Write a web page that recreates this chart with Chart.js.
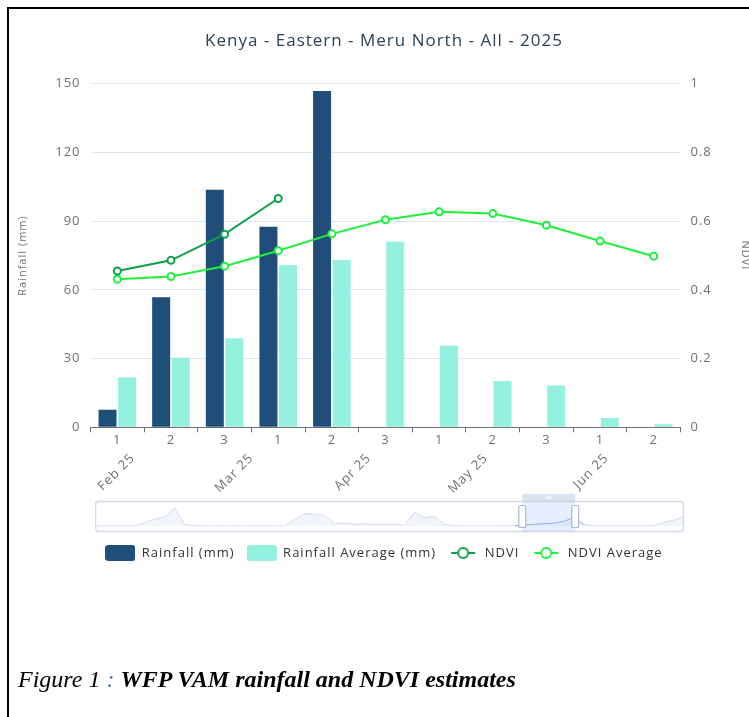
<!DOCTYPE html>
<html><head><meta charset="utf-8">
<script src="https://cdn.jsdelivr.net/npm/chart.js@4/dist/chart.umd.min.js"></script>
<style>
html,body{margin:0;padding:0;background:#fff;width:749px;height:717px;overflow:hidden;position:relative;}
#main{position:absolute;left:0;top:0;}
#mini{position:absolute;left:95px;top:493px;}
#frame{position:absolute;left:7px;top:7px;width:780px;height:740px;border-left:2px solid #000;border-top:2px solid #000;pointer-events:none;}
#cap{position:absolute;left:18px;top:666px;font-family:"Liberation Serif","Times New Roman",serif;font-size:24px;font-style:italic;color:#000;white-space:nowrap;}
#cap .c{color:#3d6fb5;}
</style></head><body>
<canvas id="main" width="760" height="572" style="width:760px;height:572px"></canvas>
<canvas id="mini" width="590" height="40" style="width:590px;height:40px"></canvas>
<div id="frame"></div>
<div id="cap">Figure 1 <span class="c">:</span> <b>WFP VAM rainfall and NDVI estimates</b></div>
<script>
// ---- data ----
const titleText = 'Kenya - Eastern - Meru North - All - 2025';
const dekads = ['1','2','3','1','2','3','1','2','3','1','2'];
const rainfall = [7.7, 56.8, 103.7, 87.6, 146.8, null, null, null, null, null, null];
const rainfallAvg = [21.7, 30.4, 38.9, 70.7, 73.0, 81.0, 35.6, 20.2, 18.2, 4.1, 1.3];
const ndvi = [0.455, 0.486, 0.562, 0.666, null, null, null, null, null, null, null];
const ndviAvg = [0.431, 0.439, 0.469, 0.514, 0.563, 0.604, 0.627, 0.622, 0.588, 0.542, 0.498];
const monthLabels = ['Feb 25', 'Mar 25', 'Apr 25', 'May 25', 'Jun 25'];
const monthPos = [0.29, 2.50, 4.69, 6.87, 9.12];
const rainTicks = [0, 30, 60, 90, 120, 150];
const ndviTicks = [0, 0.2, 0.4, 0.6, 0.8, 1];
// overview (data zoom) series, relative heights
const overview = [0,0,0,0,0,3,6.5,9,17,1,0,0,0,0,0,0,0,0,0,0,6,12,11,10,2,2.5,1.5,2,1,1.5,1.5,0.5,13,8,9,1.5,0,0,0,0,0,0,0,0.5,1.5,2,2.5,4.5,8,1,0,0,0,0,0,0,0,3.5,5.5,9];
const overviewWindow = [42.8, 48.1];

// ---- styles ----
const C_RAIN = '#1f4e79', C_AVG = '#95f1df', C_NDVI = '#0fa04b', C_NDVIAVG = '#1ff03c';
const AXIS = '#6e7079', GRID = '#e0e6f1';
const SPACING = '1px';
Chart.defaults.font.family = "'Open Sans', 'Noto Sans', sans-serif";
Chart.defaults.font.size = 13;
Chart.defaults.color = AXIS;

function rr(ctx, x, y, w, h, r) {
  ctx.beginPath();
  ctx.moveTo(x + r, y); ctx.lineTo(x + w - r, y); ctx.quadraticCurveTo(x + w, y, x + w, y + r);
  ctx.lineTo(x + w, y + h - r); ctx.quadraticCurveTo(x + w, y + h, x + w - r, y + h);
  ctx.lineTo(x + r, y + h); ctx.quadraticCurveTo(x, y + h, x, y + h - r);
  ctx.lineTo(x, y + r); ctx.quadraticCurveTo(x, y, x + r, y); ctx.closePath();
}
function boxIcon(color) {
  const c = document.createElement('canvas'); c.width = 30; c.height = 16;
  const x = c.getContext('2d'); x.fillStyle = color; rr(x, 0, 0, 30, 16, 3); x.fill(); return c;
}
function lineIcon(color) {
  const c = document.createElement('canvas'); c.width = 26; c.height = 14;
  const x = c.getContext('2d'); x.strokeStyle = color; x.lineWidth = 2;
  x.beginPath(); x.moveTo(1, 7); x.lineTo(25, 7); x.stroke();
  x.beginPath(); x.arc(13, 7, 5, 0, Math.PI * 2); x.fillStyle = '#fff'; x.fill(); x.stroke();
  return c;
}
const icons = [boxIcon(C_RAIN), boxIcon(C_AVG), lineIcon(C_NDVI), lineIcon(C_NDVIAVG)];

const PAD_L = 12, PAD_R = 4, AREA_L = 90.5, AREA_R = 680.5, CW = 760;

const spacingPlugin = {
  id: 'spacing',
  beforeLayout(chart) { chart.ctx.letterSpacing = SPACING; },
  beforeDraw(chart) { chart.ctx.letterSpacing = SPACING; }
};

const monthPlugin = {
  id: 'monthLabels',
  afterDraw(chart) {
    const { ctx, chartArea, scales } = chart;
    ctx.save();
    ctx.letterSpacing = SPACING;
    ctx.font = "13px 'Open Sans', 'Noto Sans', sans-serif";
    ctx.fillStyle = AXIS;
    ctx.textAlign = 'right';
    ctx.textBaseline = 'middle';
    monthLabels.forEach((t, i) => {
      const x = scales.x.getPixelForValue(monthPos[i]);
      const y = chartArea.bottom + 28.7;
      ctx.save(); ctx.translate(x, y); ctx.rotate(-Math.PI / 4); ctx.fillText(t, 0, 0); ctx.restore();
    });
    ctx.restore();
  }
};

new Chart(document.getElementById('main'), {
  type: 'bar',
  data: {
    labels: dekads,
    datasets: [
      { label: 'Rainfall (mm)', data: rainfall, backgroundColor: C_RAIN, yAxisID: 'y', order: 1,
        barPercentage: 0.92, categoryPercentage: 0.73 },
      { label: 'Rainfall Average (mm)', data: rainfallAvg, backgroundColor: C_AVG, yAxisID: 'y', order: 1,
        barPercentage: 0.92, categoryPercentage: 0.73 },
      { type: 'line', label: 'NDVI', data: ndvi, borderColor: C_NDVI, backgroundColor: '#fff', yAxisID: 'y1',
        order: 0, borderWidth: 2, pointRadius: 3.5, pointBorderWidth: 2, pointBackgroundColor: '#fff',
        pointBorderColor: C_NDVI, tension: 0, spanGaps: false },
      { type: 'line', label: 'NDVI Average', data: ndviAvg, borderColor: C_NDVIAVG, backgroundColor: '#fff', yAxisID: 'y1',
        order: 0, borderWidth: 2, pointRadius: 3.5, pointBorderWidth: 2, pointBackgroundColor: '#fff',
        pointBorderColor: C_NDVIAVG, tension: 0 }
    ]
  },
  options: {
    responsive: false,
    animation: false,
    devicePixelRatio: 1,
    layout: { padding: { left: PAD_L, right: PAD_R, top: 0, bottom: 2.5 } },
    plugins: {
      tooltip: { enabled: false },
      title: { display: true, text: titleText, color: '#2b4257', font: { size: 17, weight: 'normal' },
        padding: { top: 30.8, bottom: 32.5 } },
      legend: {
        position: 'bottom',
        labels: {
          color: '#333', font: { size: 13 }, padding: 12, usePointStyle: true, pointStyleWidth: 30, boxHeight: 16,
          sort: (a, b) => a.datasetIndex - b.datasetIndex,
          generateLabels: (chart) => chart.data.datasets.map((d, i) => ({
            text: d.label, datasetIndex: i, pointStyle: icons[i], fillStyle: 'transparent',
            strokeStyle: 'transparent', lineWidth: 0, fontColor: '#333', hidden: false
          }))
        }
      }
    },
    scales: {
      x: {
        type: 'category', position: 'bottom', weight: 0,
        grid: { display: true, drawOnChartArea: false, drawTicks: true, tickLength: 5, color: AXIS, offset: true },
        border: { display: true, color: AXIS },
        ticks: { color: AXIS, padding: 0, maxRotation: 0, autoSkip: false }
      },
      gap: {
        type: 'linear', position: 'bottom', weight: 2, min: 0, max: 1,
        grid: { display: false }, border: { display: false }, ticks: { display: false },
        afterFit: (s) => { s.height = 86.6; }
      },
      y: {
        position: 'left', min: 0, max: 150,
        afterBuildTicks: (s) => { s.ticks = rainTicks.map(v => ({ value: v })); },
        grid: { color: GRID, drawTicks: false }, border: { display: false },
        ticks: { color: AXIS, padding: 10 },
        title: { display: true, text: 'Rainfall (mm)', color: AXIS, font: { size: 11 }, padding: 4 },
        afterFit: (s) => { s.width = AREA_L - PAD_L; }
      },
      y1: {
        position: 'right', min: 0, max: 1,
        afterBuildTicks: (s) => { s.ticks = ndviTicks.map(v => ({ value: v })); },
        grid: { display: false, drawTicks: false }, border: { display: false },
        ticks: { color: AXIS, padding: 10, callback: (v) => String(v) },
        title: { display: true, text: 'NDVI', color: AXIS, font: { size: 11 }, padding: 4 },
        afterFit: (s) => { s.width = CW - PAD_R - AREA_R; }
      }
    }
  },
  plugins: [spacingPlugin, monthPlugin]
});

// ---- data zoom overview ----
const zoomDeco = {
  id: 'zoomDeco',
  beforeDatasetsDraw(chart) {
    const { ctx, chartArea: a } = chart;
    ctx.save();
    ctx.strokeStyle = '#d2dbee'; ctx.lineWidth = 1.5;
    rr(ctx, a.left + 0.5, a.top + 0.5, a.right - a.left - 1, a.bottom - a.top - 1, 3); ctx.stroke();
    ctx.restore();
  },
  afterDatasetsDraw(chart) {
    const { ctx, chartArea: a, scales } = chart;
    const x0 = scales.x.getPixelForValue(overviewWindow[0]);
    const x1 = scales.x.getPixelForValue(overviewWindow[1]);
    ctx.save();
    ctx.fillStyle = 'rgba(135,175,255,0.2)';
    ctx.fillRect(x0, a.top, x1 - x0, a.bottom - a.top);
    ctx.fillStyle = 'rgba(210,219,238,0.8)';
    ctx.fillRect(x0, a.top - 7, x1 - x0, 7);
    ctx.strokeStyle = '#fff'; ctx.lineWidth = 1;
    const mx = (x0 + x1) / 2;
    for (const d of [-2, 0, 2]) { ctx.beginPath(); ctx.moveTo(mx + d + 0.5, a.top - 5); ctx.lineTo(mx + d + 0.5, a.top - 2); ctx.stroke(); }
    ctx.strokeStyle = '#acb8d1'; ctx.fillStyle = '#fff'; ctx.lineWidth = 1.2;
    const hh = 22, hy = (a.top + a.bottom) / 2 - hh / 2;
    for (const x of [x0, x1]) { rr(ctx, x - 3.5, hy, 7, hh, 2); ctx.fill(); ctx.stroke(); }
    ctx.restore();
  }
};

new Chart(document.getElementById('mini'), {
  type: 'line',
  data: {
    labels: overview.map((_, i) => i),
    datasets: [{
      data: overview, borderColor: '#d2dbee', borderWidth: 1, pointRadius: 0, tension: 0,
      fill: 'origin', backgroundColor: 'rgba(210,219,238,0.3)',
      segment: { borderColor: (c) => (c.p0DataIndex >= Math.floor(overviewWindow[0]) && c.p1DataIndex <= Math.ceil(overviewWindow[1])) ? '#8fb0f7' : '#d2dbee' }
    }]
  },
  options: {
    responsive: false, animation: false, devicePixelRatio: 1,
    layout: { padding: { left: 0, right: 1, top: 8, bottom: 1 } },
    plugins: { legend: { display: false }, tooltip: { enabled: false }, title: { display: false } },
    scales: {
      x: { type: 'category', display: false, offset: false },
      y: { display: false, min: -6, max: 24 }
    }
  },
  plugins: [zoomDeco]
});
</script>
</body></html>
